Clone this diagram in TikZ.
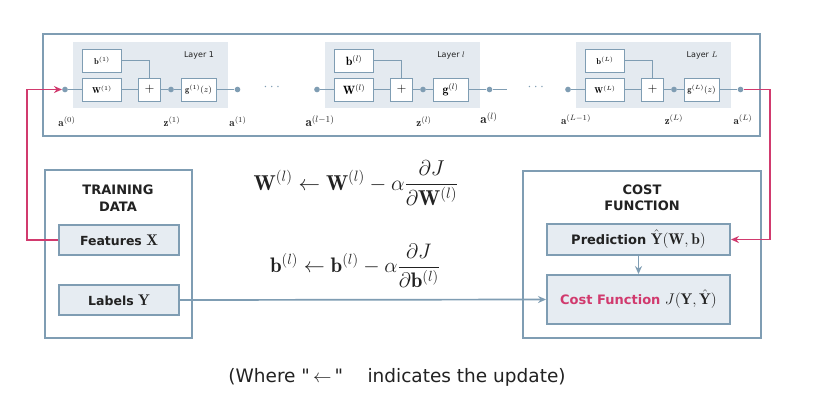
\RequirePackage{fix-cm}
\documentclass[tikz,border=0pt]{standalone}
\usepackage{amsmath}
\usepackage{fontspec}
\setsansfont{DejaVu Sans}
\newfontfamily\plainsans{DejaVu Sans}
\usetikzlibrary{arrows.meta}
\definecolor{edgec}{HTML}{7F9DB3}
\definecolor{shadec}{HTML}{E4EAF0}
\definecolor{boxfillc}{HTML}{E6ECF2}
\definecolor{pinkc}{HTML}{D13A6E}
\definecolor{txtc}{HTML}{222222}
\newcommand\boxmath[1]{{\fontsize{15.5}{16}\selectfont$#1$}}
\tikzset{
  layerbg/.style={fill=shadec,draw=none},
  ibox/.style={draw=edgec,fill=white,line width=1pt,inner sep=0pt},
  dotn/.style={circle,fill=edgec,inner sep=2pt},
  wire/.style={draw=edgec,line width=1.1pt},
  outerbox/.style={draw=edgec,line width=2.4pt},
  groupbox/.style={draw=edgec,line width=1.7pt},
  databox/.style={draw=edgec,fill=boxfillc,line width=1.9pt,inner sep=0pt,font=\fontsize{12.5}{14}\sffamily\bfseries,text=txtc},
  pinkarrow/.style={draw=pinkc,line width=1.7pt,-{Stealth[length=8pt,width=7pt]}},
  bluearrow/.style={draw=edgec,line width=1.7pt,-{Stealth[length=8pt,width=7pt]}},
  layerlbl/.style={font=\fontsize{8}{9}\sffamily,text=txtc},
  alabel/.style={text=txtc},
}
% #1 x0, #2 prefix, #3 inner font, #4 b, #5 W, #6 g, #7 layer label
\newcommand\mylayerblock[7]{%
\begin{scope}[xshift=#1pt,name prefix=#2-]
  \fill[layerbg] (0,42) rectangle (155,108);
  \node[ibox,minimum width=39pt,minimum height=23pt,font=#3] (b) at (29,60.5) {$#4$};
  \node[ibox,minimum width=39pt,minimum height=23pt,font=#3] (W) at (29,89.5) {$#5$};
  \node[ibox,minimum width=22pt,minimum height=23pt,font=\fontsize{13}{14}\selectfont] (plus) at (76.5,89.5) {$+$};
  \node[ibox,minimum width=35pt,minimum height=23pt,font=#3] (g) at (125.5,89.5) {$#6$};
  \node[dotn] (ain) at (-8,89.5) {};
  \node[dotn] (z) at (98,89.5) {};
  \node[dotn] (aout) at (164.5,89.5) {};
  \node[layerlbl] (lbl) at (126,55) {#7};
  \draw[wire] (ain) -- (W.west);
  \draw[wire] (W.east) -- (plus.west);
  \draw[wire] (b.east) -| (plus.north);
  \draw[wire] (plus.east) -- (z);
  \draw[wire] (z) -- (g.west);
  \draw[wire] (g.east) -- (aout);
\end{scope}}
\begin{document}
\begin{tikzpicture}[x=1pt,y=-1pt]
\useasboundingbox (0,0) rectangle (840,413);
\fill[white] (0,0) rectangle (840,413);
% outer network box
\draw[outerbox] (43,34) rectangle (760,136);
\mylayerblock{73}{L1}{\fontsize{8.5}{9}\selectfont}{\mathbf{b}^{(1)}}{\mathbf{W}^{(1)}}{\mathbf{g}^{(1)}(z)}{Layer 1}
\mylayerblock{325}{Ll}{\fontsize{12}{13}\selectfont}{\mathbf{b}^{(l)}}{\mathbf{W}^{(l)}}{\mathbf{g}^{(l)}}{Layer $l$}
\mylayerblock{576}{LL}{\fontsize{8.5}{9}\selectfont}{\mathbf{b}^{(L)}}{\mathbf{W}^{(L)}}{\mathbf{g}^{(L)}(z)}{Layer $L$}
\coordinate (lext) at (507,89.5);
\draw[wire] (Ll-aout) -- (lext);
\node[text=edgec,font=\fontsize{14}{15}\selectfont] (dots1) at (273,87) {$\cdots$};
\node[text=edgec,font=\fontsize{14}{15}\selectfont] (dots2) at (537,87) {$\cdots$};
% labels under layers
\node[alabel,font=\fontsize{11}{12}\selectfont] (la0) at (67,122) {$\mathbf{a}^{(0)}$};
\node[alabel,font=\fontsize{11}{12}\selectfont] (lz1) at (172,122) {$\mathbf{z}^{(1)}$};
\node[alabel,font=\fontsize{11}{12}\selectfont] (la1) at (238,122) {$\mathbf{a}^{(1)}$};
\node[alabel,font=\fontsize{13}{14}\selectfont] (lalm) at (320,121) {$\mathbf{a}^{(l-1)}$};
\node[alabel,font=\fontsize{11}{12}\selectfont] (lzl) at (424,122) {$\mathbf{z}^{(l)}$};
\node[alabel,font=\fontsize{13}{14}\selectfont] (lal) at (489,118) {$\mathbf{a}^{(l)}$};
\node[alabel,font=\fontsize{11}{12}\selectfont] (laLm) at (576,120) {$\mathbf{a}^{(L-1)}$};
\node[alabel,font=\fontsize{11}{12}\selectfont] (lzL) at (674,120) {$\mathbf{z}^{(L)}$};
\node[alabel,font=\fontsize{11}{12}\selectfont] (laL) at (743,120) {$\mathbf{a}^{(L)}$};
% training data
\draw[groupbox] (45,170) rectangle (192,338);
\node[align=center,font=\fontsize{13}{16.5}\sffamily\bfseries,text=txtc] (tdt) at (118,198) {TRAINING\\DATA};
\node[databox,minimum width=120pt,minimum height=30pt] (feat) at (119,240) {Features\ \boxmath{\mathbf{X}}};
\node[databox,minimum width=120pt,minimum height=30pt] (lab) at (119,300) {Labels\ \boxmath{\mathbf{Y}}};
% cost function
\draw[groupbox] (523,171) rectangle (761,338);
\node[align=center,font=\fontsize{13}{16.5}\sffamily\bfseries,text=txtc] (cft) at (642,198) {COST\\FUNCTION};
\node[databox,minimum width=183pt,minimum height=31pt,font=\fontsize{13}{14}\sffamily\bfseries] (pred) at (638.5,239.5) {Prediction\ \boxmath{\hat{\mathbf{Y}}(\mathbf{W},\mathbf{b})}};
\node[databox,minimum width=183pt,minimum height=49pt,font=\fontsize{13}{14}\sffamily\bfseries] (cost) at (638.5,299.5) {\textcolor{pinkc}{Cost Function}\ \boxmath{J(\mathbf{Y},\hat{\mathbf{Y}})}};
% connectors
\draw[bluearrow] (pred.south) -- (cost.north);
\draw[bluearrow] (lab.east) -- (cost.west);
\draw[pinkarrow] (feat.west) -- ++(-31,0) |- (L1-ain);
\draw[pinkarrow] (LL-aout) -- ++(29.5,0) |- (pred.east);
% equations
\node[text=txtc,font=\fontsize{21.5}{25}\selectfont] (eq1) at (356,183) {$\displaystyle \mathbf{W}^{(l)} \leftarrow \mathbf{W}^{(l)} - \alpha\frac{\partial J}{\partial \mathbf{W}^{(l)}}$};
\node[text=txtc,font=\fontsize{21}{25}\selectfont] (eq2) at (355,266) {$\displaystyle \mathbf{b}^{(l)} \leftarrow \mathbf{b}^{(l)} - \alpha\frac{\partial J}{\partial \mathbf{b}^{(l)}}$};
\node[text=txtc,font=\fontsize{18.5}{22}\plainsans] (note) at (397,377) {(Where "\,$\leftarrow$\,"\quad\ indicates the update)};
\end{tikzpicture}
\end{document}
